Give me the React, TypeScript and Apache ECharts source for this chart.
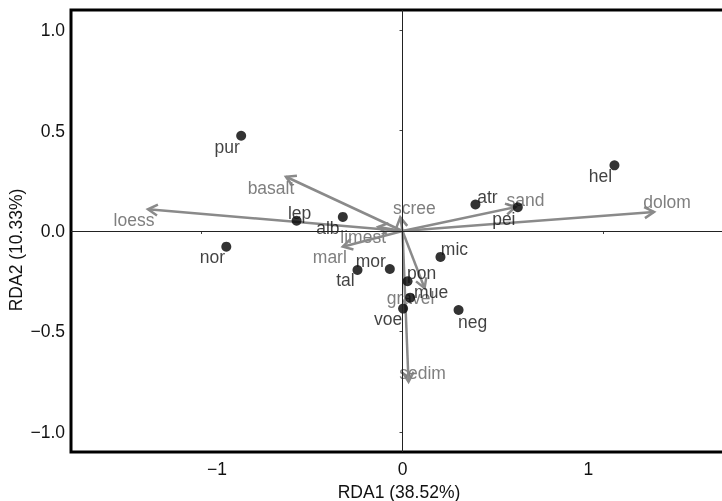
import React, { useEffect, useRef } from "react";
import * as echarts from "echarts";

// Site scores (RDA1, RDA2)
const siteNames = ["pur", "lep", "alb", "nor", "tal", "mor", "pon", "mue", "voe", "mic", "neg", "atr", "pei", "hel"];
const siteRDA1 = [-0.803, -0.527, -0.297, -0.877, -0.224, -0.063, 0.025, 0.038, 0.003, 0.189, 0.279, 0.363, 0.574, 1.055];
const siteRDA2 = [0.474, 0.051, 0.07, -0.078, -0.194, -0.189, -0.25, -0.332, -0.386, -0.129, -0.393, 0.132, 0.118, 0.327];

// Environmental vectors (RDA1, RDA2)
const envNames = ["loess", "basalt", "limest", "marl", "scree", "sand", "dolom", "gravel", "sedim"];
const envRDA1 = [-1.267, -0.58, -0.121, -0.297, -0.011, 0.562, 1.252, 0.11, 0.03];
const envRDA2 = [0.108, 0.27, 0.02, -0.078, 0.068, 0.119, 0.095, -0.285, -0.75];

// Axis ticks
const xTicks = [-1, 0, 1];
const yTicks = [-1, -0.5, 0, 0.5, 1];
const xTitle = "RDA1 (38.52%)";
const yTitle = "RDA2 (10.33%)";

// Label placement (layout only, pixels)
const siteLabelOffsets: Record<string, [number, number]> = {
  pur: [-14, 11], lep: [3, -8], alb: [-15, 11], nor: [-14, 10], tal: [-12, 10],
  mor: [-19, -8], pon: [14, -8], mue: [21, -6], voe: [-15, 10], mic: [14, -8],
  neg: [14, 12], atr: [12, -7], pei: [-14, 12], hel: [-14, 11],
};
const envLabelOffsets: Record<string, [number, number]> = {
  loess: [-14, 11], basalt: [-15, 11], limest: [-15, 10], marl: [-13, 10], scree: [14, -9],
  sand: [10, -7], dolom: [13, -10], gravel: [-14, 10], sedim: [14, -9],
};

const FONT = "Liberation Sans, Arial, Helvetica, sans-serif";
const FS = 17.5;
const ARROW = "#8a8a8a";
const ENVTXT = "#7f7f7f";

const fmtMinus = (v: number, d: number) => {
  const s = Math.abs(v).toFixed(d);
  return v < 0 ? "\u2212" + s : s;
};

export default function App() {
  const ref = useRef<HTMLDivElement>(null);
  useEffect(() => {
    if (!ref.current) return;
    const chart = echarts.init(ref.current, undefined, { renderer: "svg" });
    const siteData = siteNames.map((n, i) => ({
      name: n,
      value: [siteRDA1[i], siteRDA2[i]],
      label: { offset: siteLabelOffsets[n] },
    }));
    const envData = envNames.map((n, i) => [envRDA1[i], envRDA2[i], i]);

    chart.setOption({
      animation: false,
      grid: {
        left: 71,
        top: 10,
        width: 663,
        height: 442,
        show: true,
        borderWidth: 3,
        borderColor: "#000",
        backgroundColor: "transparent",
        containLabel: false,
        outerBoundsMode: "none",
      },
      xAxis: {
        type: "value",
        min: -1.65,
        max: 1.65,
        splitLine: { show: false },
        axisLine: { show: false },
        axisTick: { show: true, length: 3, lineStyle: { color: "#444", width: 1 }, customValues: xTicks },
        axisLabel: {
          customValues: xTicks,
          margin: 8,
          color: "#111",
          fontFamily: FONT,
          fontSize: FS,
          formatter: (v: number) => {
            if (v < 0) return "{l|" + fmtMinus(v, 0) + "}";
            if (v > 0) return "{r|" + fmtMinus(v, 0) + "}";
            return "{c|0}";
          },
          rich: {
            l: { padding: [0, 0, 0, 31], fontFamily: FONT, fontSize: FS, color: "#111" },
            r: { padding: [0, 30, 0, 0], fontFamily: FONT, fontSize: FS, color: "#111" },
            c: { fontFamily: FONT, fontSize: FS, color: "#111" },
          },
        },
      },
      yAxis: {
        type: "value",
        min: -1.1,
        max: 1.1,
        splitLine: { show: false },
        axisLine: { show: false },
        axisTick: { show: true, length: 3, lineStyle: { color: "#444", width: 1 }, customValues: yTicks },
        axisLabel: {
          customValues: yTicks,
          margin: 6,
          color: "#111",
          fontFamily: FONT,
          fontSize: FS,
          formatter: (v: number) => fmtMinus(v, 1),
        },
      },
      graphic: [
        {
          type: "text",
          x: 399,
          y: 492,
          style: { text: xTitle, fontFamily: FONT, fontSize: FS, fill: "#111", textAlign: "center", textVerticalAlign: "middle" },
        },
        {
          type: "text",
          x: 16,
          y: 250,
          rotation: Math.PI / 2,
          style: { text: yTitle, fontFamily: FONT, fontSize: FS, fill: "#111", textAlign: "center", textVerticalAlign: "middle" },
        },
      ],
      series: [
        {
          type: "scatter",
          data: [],
          silent: true,
          markLine: {
            silent: true,
            symbol: ["none", "none"],
            label: { show: false },
            lineStyle: { color: "#222", width: 1, type: "solid" },
            data: [{ xAxis: 0 }, { yAxis: 0 }],
          },
          z: 1,
        },
        {
          type: "custom",
          data: envData,
          encode: { x: 0, y: 1 },
          z: 2,
          silent: true,
          renderItem: (params: any, api: any) => {
            const idx = api.value(2);
            const name = envNames[idx];
            const p0 = api.coord([0, 0]);
            const p1 = api.coord([api.value(0), api.value(1)]);
            const a = Math.atan2(p1[1] - p0[1], p1[0] - p0[0]);
            const L = 11;
            const h = Math.PI / 6;
            const arm1 = [p1[0] - L * Math.cos(a - h), p1[1] - L * Math.sin(a - h)];
            const arm2 = [p1[0] - L * Math.cos(a + h), p1[1] - L * Math.sin(a + h)];
            const off = envLabelOffsets[name] || [0, 0];
            return {
              type: "group",
              children: [
                {
                  type: "line",
                  shape: { x1: p0[0], y1: p0[1], x2: p1[0], y2: p1[1] },
                  style: { stroke: ARROW, lineWidth: 2.5 },
                },
                {
                  type: "polyline",
                  shape: { points: [arm1, p1, arm2] },
                  style: { stroke: ARROW, lineWidth: 2.5, fill: null, lineJoin: "miter" },
                },
                {
                  type: "text",
                  x: p1[0] + off[0],
                  y: p1[1] + off[1],
                  style: {
                    text: name,
                    fontFamily: FONT,
                    fontSize: FS,
                    fill: ENVTXT,
                    textAlign: "center",
                    textVerticalAlign: "middle",
                  },
                },
              ],
            };
          },
        },
        {
          type: "scatter",
          data: siteData,
          z: 3,
          symbol: "circle",
          symbolSize: 10,
          itemStyle: { color: "#000" },
          silent: true,
          label: {
            show: true,
            position: "inside",
            formatter: "{b}",
            color: "#111",
            fontFamily: FONT,
            fontSize: FS,
          },
        },
      ],
    });
    return () => chart.dispose();
  }, []);
  return <div ref={ref} style={{ position: "fixed", left: 0, top: 0, width: 722, height: 501 }} />;
}
